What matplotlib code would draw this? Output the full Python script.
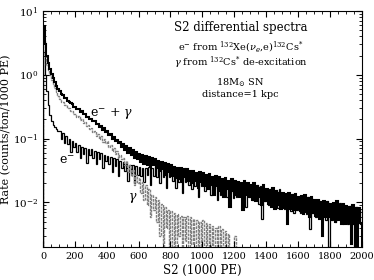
import matplotlib
matplotlib.use("Agg")
import matplotlib.pyplot as plt
import numpy as np
from matplotlib.ticker import MultipleLocator, LogLocator, NullFormatter

plt.rcParams['font.family'] = 'DejaVu Serif'
plt.rcParams['mathtext.fontset'] = 'dejavuserif'

# histogram bins: 10 (x1000 PE) wide, 0..2000
bin_edges = np.arange(0, 2001, 10)

# e- + gamma (total), one row = 100 PE
total_rate = [
    5.8, 3.0, 2.0, 1.55, 1.25, 1.02, 0.88, 0.76, 0.67, 0.60,
    0.56, 0.50, 0.49, 0.43, 0.43, 0.39, 0.38, 0.355, 0.345, 0.315,
    0.315, 0.295, 0.29, 0.262, 0.268, 0.245, 0.24, 0.22, 0.22, 0.20,
    0.205, 0.185, 0.19, 0.168, 0.17, 0.152, 0.158, 0.138, 0.145, 0.126,
    0.13, 0.114, 0.118, 0.10, 0.106, 0.09, 0.096, 0.084, 0.088, 0.075,
    0.082, 0.066, 0.076, 0.06, 0.071, 0.055, 0.065, 0.05, 0.061, 0.048,
    0.058, 0.043, 0.056, 0.04, 0.054, 0.038, 0.052, 0.036, 0.05, 0.039,
    0.047, 0.034, 0.045, 0.031, 0.043, 0.033, 0.041, 0.027, 0.04, 0.03,
    0.038, 0.026, 0.036, 0.024, 0.035, 0.023, 0.035, 0.021, 0.033, 0.025,
    0.033, 0.022, 0.031, 0.02, 0.031, 0.022, 0.029, 0.017, 0.03, 0.021,
    0.029, 0.018, 0.027, 0.016, 0.028, 0.019, 0.025, 0.013, 0.026, 0.018,
    0.025, 0.015, 0.023, 0.012, 0.024, 0.016, 0.022, 0.0085, 0.023, 0.015,
    0.022, 0.013, 0.021, 0.012, 0.02, 0.0075, 0.022, 0.013, 0.02, 0.012,
    0.019, 0.011, 0.02, 0.0105, 0.018, 0.012, 0.017, 0.009, 0.019, 0.0105,
    0.016, 0.0095, 0.015, 0.0085, 0.0165, 0.008, 0.015, 0.009, 0.014, 0.0078,
    0.014, 0.0082, 0.0135, 0.0045, 0.014, 0.0078, 0.013, 0.0075, 0.0135, 0.008,
    0.012, 0.0072, 0.0125, 0.0065, 0.013, 0.007, 0.0118, 0.006, 0.012, 0.0068,
    0.0108, 0.0062, 0.011, 0.0055, 0.0102, 0.003, 0.0105, 0.006, 0.0102, 0.0058,
    0.0095, 0.0054, 0.0098, 0.005, 0.0105, 0.0052, 0.0092, 0.0045, 0.0094, 0.0046,
    0.0088, 0.0048, 0.0085, 0.0022, 0.009, 0.0046, 0.0082, 0.0016, 0.0082, 0.0048,
]

# e- from 132Xe(nu_e, e-)132Cs*
e_rate = [
    2.3, 1.0, 0.55, 0.33, 0.23, 0.19, 0.165, 0.15, 0.14, 0.13,
    0.13, 0.10, 0.12, 0.085, 0.11, 0.082, 0.10, 0.062, 0.092, 0.075,
    0.085, 0.062, 0.078, 0.05, 0.074, 0.058, 0.071, 0.042, 0.068, 0.055,
    0.068, 0.05, 0.064, 0.04, 0.061, 0.047, 0.059, 0.034, 0.056, 0.044,
    0.054, 0.04, 0.052, 0.03, 0.049, 0.037, 0.047, 0.026, 0.045, 0.034,
    0.043, 0.031, 0.041, 0.022, 0.039, 0.029, 0.038, 0.02, 0.037, 0.027,
    0.036, 0.026, 0.035, 0.021, 0.034, 0.027, 0.036, 0.019, 0.035, 0.026,
    0.037, 0.025, 0.035, 0.02, 0.034, 0.025, 0.033, 0.017, 0.032, 0.025,
    0.033, 0.022, 0.031, 0.017, 0.03, 0.021, 0.029, 0.014, 0.028, 0.021,
    0.029, 0.019, 0.027, 0.016, 0.027, 0.018, 0.025, 0.012, 0.025, 0.018,
    0.024, 0.015, 0.022, 0.017, 0.025, 0.013, 0.023, 0.016, 0.024, 0.011,
    0.022, 0.013, 0.02, 0.0145, 0.021, 0.012, 0.02, 0.014, 0.021, 0.0115,
    0.021, 0.012, 0.019, 0.0135, 0.02, 0.0115, 0.021, 0.0085, 0.019, 0.012,
    0.018, 0.011, 0.017, 0.0115, 0.019, 0.0095, 0.018, 0.0055, 0.017, 0.0105,
    0.015, 0.0092, 0.016, 0.0098, 0.015, 0.0088, 0.0155, 0.0082, 0.016, 0.0085,
    0.013, 0.0078, 0.0135, 0.0082, 0.013, 0.0072, 0.0135, 0.0068, 0.0128, 0.0075,
    0.0118, 0.0068, 0.012, 0.007, 0.0115, 0.0065, 0.0122, 0.0038, 0.0115, 0.0068,
    0.0105, 0.006, 0.0108, 0.0058, 0.0102, 0.0062, 0.0098, 0.0052, 0.0105, 0.002,
    0.0094, 0.0052, 0.0098, 0.005, 0.0092, 0.0054, 0.0096, 0.0048, 0.0092, 0.005,
    0.0085, 0.0046, 0.0088, 0.0044, 0.0084, 0.0018, 0.0086, 0.0045, 0.0078, 0.0045,
]

# gamma from 132Cs* de-excitation (empty bins above 1300)
gamma_rate = [
    3.5, 2.0, 1.4, 1.2, 1.0, 0.82, 0.71, 0.61, 0.53, 0.47,
    0.41, 0.37, 0.37, 0.33, 0.33, 0.30, 0.30, 0.27, 0.27, 0.245,
    0.245, 0.22, 0.225, 0.195, 0.205, 0.175, 0.18, 0.155, 0.165, 0.14,
    0.145, 0.125, 0.13, 0.11, 0.118, 0.10, 0.108, 0.088, 0.098, 0.085,
    0.09, 0.074, 0.08, 0.064, 0.072, 0.058, 0.064, 0.05, 0.056, 0.047,
    0.05, 0.038, 0.045, 0.03, 0.038, 0.026, 0.032, 0.019, 0.027, 0.02,
    0.024, 0.014, 0.021, 0.011, 0.019, 0.009, 0.016, 0.006, 0.013, 0.0075,
    0.012, 0.005, 0.011, 0.003, 0.0095, 0.0, 0.0085, 0.004, 0.0075, 0.0,
    0.0072, 0.002, 0.0068, 0.0, 0.0065, 0.003, 0.0062, 0.0, 0.0058, 0.0025,
    0.0062, 0.0, 0.0058, 0.0022, 0.0055, 0.0, 0.0052, 0.0, 0.005, 0.002,
    0.0052, 0.0, 0.0048, 0.0, 0.0045, 0.0021, 0.0042, 0.0, 0.004, 0.0,
    0.0042, 0.0, 0.0038, 0.0, 0.0035, 0.0, 0.0032, 0.0, 0.0, 0.0,
    0.003, 0.0, 0.0, 0.0, 0.0, 0.0, 0.0, 0.0, 0.0, 0.0,
]

fig = plt.figure(figsize=(3.74, 2.8), dpi=100)
ax = fig.add_axes([0.115, 0.118, 0.852, 0.843])

g_edges = bin_edges[:len(gamma_rate) + 1]
ax.stairs(e_rate, bin_edges, color='black', lw=0.9)
ax.stairs(gamma_rate, g_edges, color='0.5', lw=1.0, linestyle=(0, (2, 0.7)))
ax.stairs(total_rate, bin_edges, color='black', lw=1.5)

ax.set_yscale('log')
ax.set_xlim(0, 2000)
ax.set_ylim(0.002, 10)

ax.xaxis.set_major_locator(MultipleLocator(200))
ax.xaxis.set_minor_locator(MultipleLocator(50))
ax.yaxis.set_minor_locator(LogLocator(base=10, subs=np.arange(2, 10)))
ax.yaxis.set_minor_formatter(NullFormatter())
ax.tick_params(which='both', direction='in', top=True, right=True, labelsize=7.5)
ax.tick_params(axis='x', labelsize=7)
ax.tick_params(which='major', length=4, width=0.8)
ax.tick_params(which='minor', length=2, width=0.6)

ax.set_xlabel('S2 (1000 PE)', fontsize=8.5, labelpad=2)
ax.set_ylabel('Rate (counts/ton/1000 PE)', fontsize=8, labelpad=1)

cx = 0.62
ax.text(cx, 0.928, 'S2 differential spectra', transform=ax.transAxes,
        ha='center', va='center', fontsize=8.5)
ax.text(cx, 0.848, r'e$^{-}$ from $^{132}$Xe($\nu_e$,e)$^{132}$Cs$^{*}$',
        transform=ax.transAxes, ha='center', va='center', fontsize=7)
ax.text(cx, 0.779, r'$\gamma$ from $^{132}$Cs$^{*}$ de-excitation',
        transform=ax.transAxes, ha='center', va='center', fontsize=7)
ax.text(cx, 0.695, r'18M$_{\odot}$ SN', transform=ax.transAxes,
        ha='center', va='center', fontsize=7)
ax.text(cx, 0.644, 'distance=1 kpc', transform=ax.transAxes,
        ha='center', va='center', fontsize=7)

ax.text(430, 0.24, r'e$^{-}$ + $\gamma$', ha='center', va='center', fontsize=9)
ax.text(150, 0.046, r'e$^{-}$', ha='center', va='center', fontsize=9)
ax.text(565, 0.0115, r'$\gamma$', ha='center', va='center', fontsize=9)

fig.savefig('out.png', dpi=100)
